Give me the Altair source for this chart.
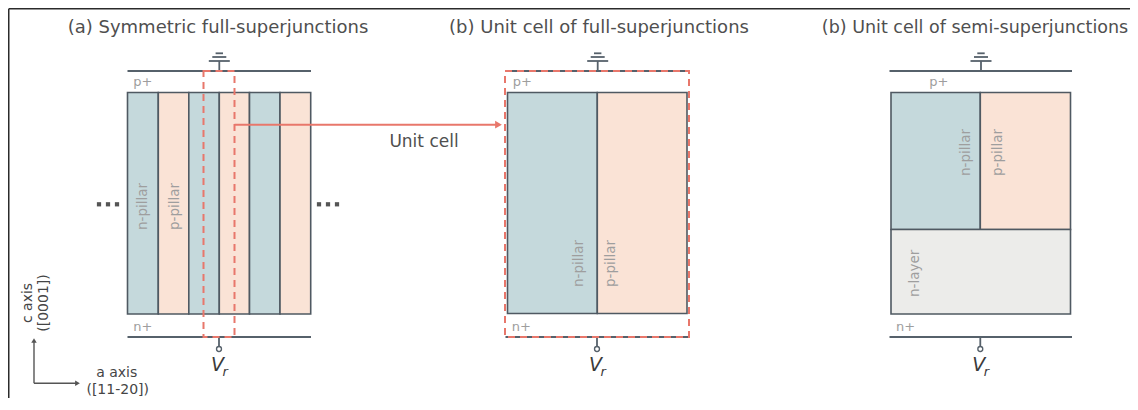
import altair as alt
import pandas as pd

# ---------------- page geometry (reference pixel coordinates) ----------------
PAGE_W, PAGE_H, MARGIN = 1138, 410, 8
CHART_W, CHART_H = PAGE_W - 2 * MARGIN, PAGE_H - 2 * MARGIN - 4

# ---------------- panel titles ----------------
titles = ["(a) Symmetric full-superjunctions",
          "(b) Unit cell of full-superjunctions",
          "(b) Unit cell of semi-superjunctions"]
title_x = [218, 599, 975]
title_y = [28, 28, 28]
title_size = [18, 18, 17.5]

# ---------------- contacts ----------------
contact_x1 = [127.5, 505.5, 889.5]
contact_x2 = [311.0, 689.0, 1072.0]
contact_top_y = [71, 71, 71]
contact_bot_y = [337, 337, 337]
ground_x = [219.3, 597.7, 981.0]
ground_bar_y = [53.3, 57.0, 61.0]
ground_bar_half = [3.7, 7.0, 10.5]
terminal_x = [219.0, 597.0, 980.3]
terminal_y = [349, 349, 349]

# ---------------- device regions ----------------
region_x1 = [127.5, 158.3, 188.8, 219.3, 249.5, 280.0, 507.5, 597.3, 891.0, 980.3, 891.0]
region_x2 = [158.3, 188.8, 219.3, 249.5, 280.0, 310.7, 597.3, 687.0, 980.3, 1070.5, 1070.5]
region_y1 = [92.5] * 6 + [92.5, 92.5] + [92.5, 92.5, 229.5]
region_y2 = [314.0] * 6 + [313.5, 313.5] + [229.5, 229.5, 314.0]
region_kind = ["n", "p", "n", "p", "n", "p", "n", "p", "n", "p", "layer"]
kind_fill = {"n": "#c5d9dc", "p": "#fae3d6", "layer": "#ececea"}

# contact region labels
cl_text = ["p+", "n+", "p+", "n+", "p+", "n+"]
cl_x = [133.3, 133.3, 512.7, 511.7, 929.3, 896.0]
cl_y = [81.7, 326.7, 81.7, 326.7, 81.7, 326.7]

# rotated region labels
rl_text = ["n-pillar", "p-pillar", "n-pillar", "p-pillar", "n-pillar", "p-pillar", "n-layer"]
rl_x = [142.5, 175.0, 578.7, 611.0, 966.0, 998.3, 915.3]
rl_y = [206.5, 206.5, 263.5, 263.5, 152.5, 152.5, 273.3]

# unit-cell highlight (dashed) and arrow
cell_x1 = [203.5, 505.0]
cell_x2 = [234.5, 689.0]
cell_y1 = [71, 71]
cell_y2 = [337, 337]
arrow_x = [234.5, 496.0]
arrow_y = [124.7, 124.7]
arrow_tip = [498.5, 124.7]
unit_label = ["Unit cell"]
unit_label_x = [424]
unit_label_y = [142]

# ellipsis dots
dot_x = [99, 108, 117, 319, 328, 337]
dot_y = [204.3] * 6

# crystal axes indicator
ax_origin = [34, 383.3]
ax_up_end = [34, 341.0]
ax_right_end = [77.0, 383.3]
axis_text = ["c axis", "([0001])", "a axis", "([11-20])"]
axis_text_x = [27.5, 44.0, 116.7, 117.7]
axis_text_y = [303.0, 303.0, 373.3, 390.0]
axis_text_angle = [270, 270, 0, 0]

# ---------------- scales ----------------
xs = alt.Scale(domain=[MARGIN, MARGIN + CHART_W], nice=False, zero=False)
ys = alt.Scale(domain=[MARGIN, MARGIN + CHART_H], reverse=True, nice=False, zero=False)


def X(f="x"):
    return alt.X(f"{f}:Q", scale=xs, axis=None)


def Y(f="y"):
    return alt.Y(f"{f}:Q", scale=ys, axis=None)


DARK = "#56616b"
RED = "#e8776b"
LABEL_GREY = "#9e9e9e"
TEXT = "#4f4f4f"
FONT = "DejaVu Sans"

# ---------------- tables ----------------
df_regions = pd.DataFrame({"x": region_x1, "x2": region_x2, "y": region_y1,
                           "y2": region_y2,
                           "fill": [kind_fill[k] for k in region_kind]})

seg = {"x": [], "y": [], "x2": [], "y2": []}


def add(x1, y1, x2, y2):
    seg["x"].append(x1); seg["y"].append(y1); seg["x2"].append(x2); seg["y2"].append(y2)


for i in range(3):
    add(contact_x1[i], contact_top_y[i], contact_x2[i], contact_top_y[i])
    add(contact_x1[i], contact_bot_y[i], contact_x2[i], contact_bot_y[i])
    add(ground_x[i], ground_bar_y[-1], ground_x[i], contact_top_y[i])
    for by, bh in zip(ground_bar_y, ground_bar_half):
        add(ground_x[i] - bh, by, ground_x[i] + bh, by)
    add(terminal_x[i], contact_bot_y[i], terminal_x[i], terminal_y[i] - 2.6)
df_seg = pd.DataFrame(seg)

df_term = pd.DataFrame({"x": terminal_x, "y": terminal_y})
df_cells = pd.DataFrame({"x": cell_x1, "x2": cell_x2, "y": cell_y1, "y2": cell_y2})
df_arrow = pd.DataFrame({"x": [arrow_x[0]], "x2": [arrow_x[1]], "y": [arrow_y[0]], "y2": [arrow_y[1]]})
df_arrow_tip = pd.DataFrame({"x": [arrow_tip[0]], "y": [arrow_tip[1]]})
df_axes = pd.DataFrame({"x": [ax_origin[0], ax_origin[0]], "y": [ax_origin[1], ax_origin[1]],
                        "x2": [ax_up_end[0], ax_right_end[0]], "y2": [ax_up_end[1], ax_right_end[1]]})
df_ax_up = pd.DataFrame({"x": [ax_up_end[0]], "y": [ax_up_end[1] - 0.5]})
df_ax_right = pd.DataFrame({"x": [ax_right_end[0] + 0.5], "y": [ax_right_end[1]]})
df_frame = pd.DataFrame({"x": [MARGIN + 0.75, MARGIN + 0.75], "y": [MARGIN + 0.75, MARGIN + 0.75],
                         "x2": [MARGIN + CHART_W, MARGIN + 0.75],
                         "y2": [MARGIN + 0.75, MARGIN + CHART_H]})
df_titles = pd.DataFrame({"x": title_x, "y": title_y, "t": titles, "s": title_size})
df_cl = pd.DataFrame({"x": cl_x, "y": cl_y, "t": cl_text})
df_rl = pd.DataFrame({"x": rl_x, "y": rl_y, "t": rl_text})
df_unit = pd.DataFrame({"x": unit_label_x, "y": unit_label_y, "t": unit_label})
df_dots = pd.DataFrame({"x": dot_x, "y": dot_y})
df_axt = pd.DataFrame({"x": axis_text_x, "y": axis_text_y, "t": axis_text, "a": axis_text_angle})
df_V = pd.DataFrame({"x": [t - 1.5 for t in terminal_x], "y": [370.5] * 3, "t": ["V"] * 3})
df_r = pd.DataFrame({"x": [t + 3.5 for t in terminal_x], "y": [376.0] * 3, "t": ["r"] * 3})

# ---------------- layers ----------------
frame = alt.Chart(df_frame).mark_rule(color="#2b2b2b", strokeWidth=1.5).encode(
    X(), x2="x2:Q", y=Y(), y2="y2:Q")

regions = alt.Chart(df_regions).mark_rect(stroke="#4f5962", strokeWidth=1.6).encode(
    X(), x2="x2:Q", y=Y(), y2="y2:Q", color=alt.Color("fill:N", scale=None))

wires = alt.Chart(df_seg).mark_rule(color=DARK, strokeWidth=1.8).encode(
    X(), x2="x2:Q", y=Y(), y2="y2:Q")

terminals = alt.Chart(df_term).mark_point(shape="circle", filled=True, color="white",
                                          stroke=DARK, strokeWidth=1.4, size=24,
                                          opacity=1).encode(X(), Y())

cells = alt.Chart(df_cells).mark_rect(fillOpacity=0, stroke=RED, strokeWidth=2,
                                      strokeDash=[7, 5]).encode(
    X(), x2="x2:Q", y=Y(), y2="y2:Q")

arrow = alt.Chart(df_arrow).mark_rule(color=RED, strokeWidth=2).encode(
    X(), x2="x2:Q", y=Y(), y2="y2:Q")
arrow_head = alt.Chart(df_arrow_tip).mark_point(shape="triangle-right", filled=True,
                                                color=RED, size=60, opacity=1).encode(X(), Y())

axes = alt.Chart(df_axes).mark_rule(color="#555555", strokeWidth=1.4).encode(
    X(), x2="x2:Q", y=Y(), y2="y2:Q")
ax_up = alt.Chart(df_ax_up).mark_point(shape="triangle-up", filled=True, color="#555555",
                                       size=30, opacity=1).encode(X(), Y())
ax_right = alt.Chart(df_ax_right).mark_point(shape="triangle-right", filled=True,
                                             color="#555555", size=30, opacity=1).encode(X(), Y())

dots = alt.Chart(df_dots).mark_square(color="#555555", size=18, opacity=1).encode(X(), Y())

title_text = alt.Chart(df_titles).mark_text(font=FONT, color=TEXT,
                                            align="center", baseline="middle").encode(
    X(), Y(), text="t:N", size=alt.Size("s:Q", scale=None))
cl_labels = alt.Chart(df_cl).mark_text(font=FONT, fontSize=13, color=LABEL_GREY,
                                       align="left", baseline="middle").encode(X(), Y(), text="t:N")
rl_labels = alt.Chart(df_rl).mark_text(font=FONT, fontSize=13.5, color=LABEL_GREY, angle=270,
                                       align="center", baseline="middle").encode(X(), Y(), text="t:N")
unit_text = alt.Chart(df_unit).mark_text(font=FONT, fontSize=17, color=TEXT,
                                         align="center", baseline="middle").encode(X(), Y(), text="t:N")
axis_labels = alt.Chart(df_axt).mark_text(font=FONT, fontSize=14, color="#454545",
                                          align="center", baseline="middle").encode(
    X(), Y(), text="t:N", angle=alt.Angle("a:Q", scale=None))
v_text = alt.Chart(df_V).mark_text(font=FONT, fontSize=19, fontStyle="italic", color="#3a3a3a",
                                   align="center", baseline="alphabetic").encode(X(), Y(), text="t:N")
r_text = alt.Chart(df_r).mark_text(font=FONT, fontSize=13, fontStyle="italic", color="#3a3a3a",
                                   align="left", baseline="alphabetic").encode(X(), Y(), text="t:N")

chart = alt.layer(
    frame, regions, wires, terminals, cells, arrow, arrow_head, axes, ax_up, ax_right, dots,
    title_text, cl_labels, rl_labels, unit_text, axis_labels, v_text, r_text
).properties(
    width=CHART_W, height=CHART_H, padding=0,
    autosize=alt.AutoSizeParams(type="none")
).configure_view(strokeWidth=0)

chart.save("out.html", embed_options={"renderer": "svg", "actions": False})
